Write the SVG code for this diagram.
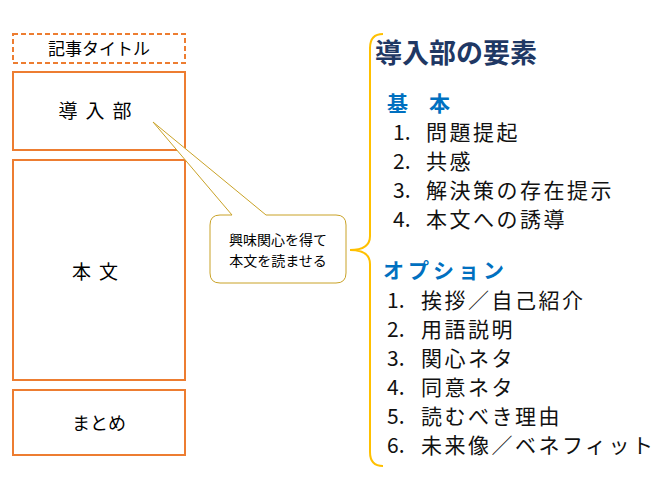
<svg xmlns="http://www.w3.org/2000/svg" width="667" height="500" viewBox="0 0 667 500">
<style>
.box{fill:#fff;stroke:#ED7D31;stroke-width:2}
.t{font-family:"Noto Sans CJK JP","Noto Sans",sans-serif;fill:#000}
.li{font-family:"Noto Sans CJK JP","Noto Sans",sans-serif;font-size:21px;fill:#111}
.w{letter-spacing:2.5px}
.hd{font-family:"Noto Sans CJK JP",sans-serif;font-size:21px;font-weight:bold;fill:#0070C0}
</style>
<rect width="667" height="500" fill="#fff"/>
<g id="title"><rect class="box" x="13" y="34" width="172" height="29" stroke-dasharray="5,3"/><text class="t" x="99" y="55" font-size="17" text-anchor="middle">記事タイトル</text></g>
<g id="intro"><rect class="box" x="13" y="72" width="172" height="78"/><text class="t" x="99" y="118" font-size="19" text-anchor="middle" letter-spacing="8">導入部</text></g>
<g id="body"><rect class="box" x="13" y="160" width="172" height="220"/><text class="t" x="99" y="279" font-size="19" text-anchor="middle" letter-spacing="8">本文</text></g>
<g id="summary"><rect class="box" x="13" y="390" width="172" height="65"/><text class="t" x="99" y="430" font-size="18" text-anchor="middle">まとめ</text></g>
<g id="callout"><path d="M153,122 L266,215 L336,215 Q346,215 346,225 L346,273 Q346,283 336,283 L220,283 Q210,283 210,273 L210,225 Q210,215 220,215 L232,215 Z" fill="#fff" stroke="#C9A227" stroke-width="1"/>
<text class="t" x="278" y="245" font-size="14" text-anchor="middle">興味関心を得て</text><text class="t" x="278" y="266" font-size="14" text-anchor="middle">本文を読ませる</text></g>
<g id="connectors"><path d="M383,34 Q370,34 370,48 L370,236 Q370,250 350,250 Q370,250 370,264 L370,452 Q370,466 383,466" fill="none" stroke="#FFC000" stroke-width="2"/></g>
<g id="list">
<text x="375" y="63" font-family="Noto Sans CJK JP,sans-serif" font-size="27" font-weight="bold" fill="#1F3864">導入部の要素</text>
<text class="hd" x="387" y="111">基　本</text>
<text class="li" x="393" y="140">1.</text><text class="li w" x="426" y="140">問題提起</text>
<text class="li" x="393" y="169">2.</text><text class="li w" x="426" y="169">共感</text>
<text class="li" x="393" y="198">3.</text><text class="li w" x="426" y="198">解決策の存在提示</text>
<text class="li" x="393" y="227">4.</text><text class="li w" x="426" y="227">本文への誘導</text>
<text class="hd" x="383" y="278" letter-spacing="4">オプション</text>
<text class="li" x="387" y="308">1.</text><text class="li w" x="421" y="308">挨拶／自己紹介</text>
<text class="li" x="387" y="337">2.</text><text class="li w" x="421" y="337">用語説明</text>
<text class="li" x="387" y="366">3.</text><text class="li w" x="421" y="366">関心ネタ</text>
<text class="li" x="387" y="395">4.</text><text class="li w" x="421" y="395">同意ネタ</text>
<text class="li" x="387" y="424">5.</text><text class="li w" x="421" y="424">読むべき理由</text>
<text class="li" x="387" y="453">6.</text><text class="li w" x="421" y="453">未来像／ベネフィット</text>
</g>
</svg>
